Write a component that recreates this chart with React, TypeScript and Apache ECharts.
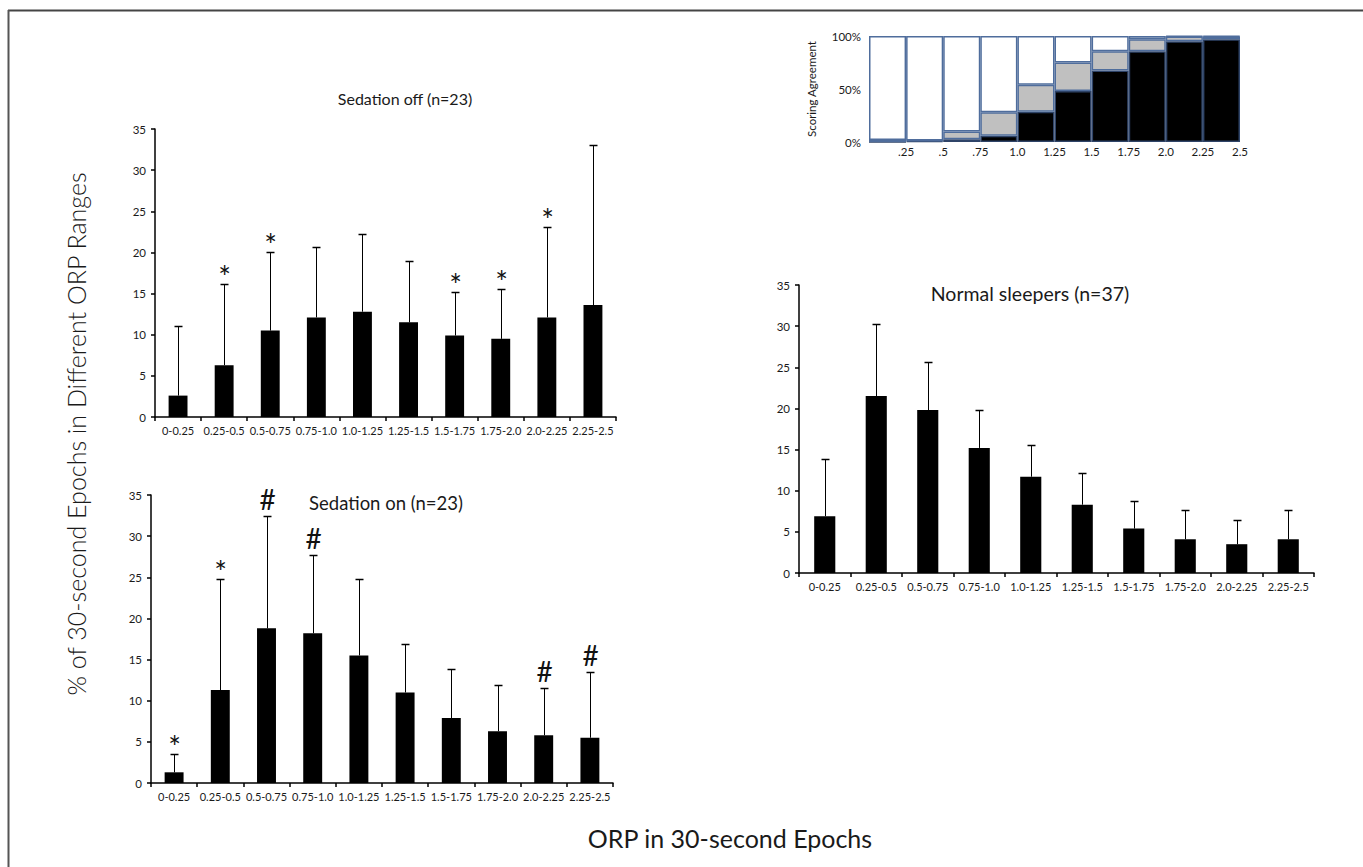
import React, { useEffect, useRef } from "react";
import * as echarts from "echarts";

const categories = ["0-0.25", "0.25-0.5", "0.5-0.75", "0.75-1.0", "1.0-1.25", "1.25-1.5", "1.5-1.75", "1.75-2.0", "2.0-2.25", "2.25-2.5"];

// Sedation off (n=23): mean and upper error limit
const offMean = [2.6, 6.3, 10.5, 12.1, 12.8, 11.5, 9.9, 9.5, 12.1, 13.6];
const offUpper = [11.1, 16.2, 20.1, 20.7, 22.3, 19.0, 15.2, 15.6, 23.1, 33.0];
const offMarks = ["", "*", "*", "", "", "", "*", "*", "*", ""];

// Sedation on (n=23)
const onMean = [1.3, 11.3, 18.8, 18.2, 15.5, 11.0, 7.9, 6.3, 5.8, 5.5];
const onUpper = [3.5, 24.8, 32.4, 27.7, 24.8, 16.9, 13.9, 11.9, 11.6, 13.5];
const onMarks = ["*", "*", "#", "#", "", "", "", "", "#", "#"];

// Normal sleepers (n=37)
const normMean = [6.9, 21.5, 19.8, 15.2, 11.7, 8.3, 5.4, 4.1, 3.5, 4.1];
const normUpper = [13.9, 30.2, 25.6, 19.8, 15.5, 12.2, 8.7, 7.6, 6.5, 7.6];
const normMarks = ["", "", "", "", "", "", "", "", "", ""];

// Inset: scoring agreement (%)
const agreeBlack = [0, 1, 2.5, 6, 28.5, 48, 67.5, 85.5, 95, 97];
const agreeGray = [2, 0.5, 7.5, 22, 25.5, 27, 18, 11.5, 4.5, 2.5];
const agreeWhite = [98, 98.5, 90, 72, 46, 25, 14.5, 3, 0.5, 0.5];
const insetTickLabels = ["", ".25", ".5", ".75", "1.0", "1.25", "1.5", "1.75", "2.0", "2.25", "2.5"];
const insetYTicks = [0, 50, 100];

const FONT = "Lato, 'Open Sans', sans-serif";
const TXT = "#1a1a1a";

function errorSeries(axisIdx: number, mean: number[], upper: number[], marks: string[]) {
  return {
    type: "custom",
    xAxisIndex: axisIdx,
    yAxisIndex: axisIdx,
    encode: { x: 0, y: [1, 2] },
    data: categories.map((_, i) => [i, mean[i], upper[i]]),
    z: 5,
    renderItem: (params: any, api: any) => {
      const i = params.dataIndex;
      const base = api.coord([api.value(0), api.value(1)]);
      const top = api.coord([api.value(0), api.value(2)]);
      const x = Math.round(top[0]) + 0.5;
      const y = Math.round(top[1]) + 0.5;
      const children: any[] = [
        { type: "line", shape: { x1: x, y1: base[1], x2: x, y2: y }, style: { stroke: "#000", lineWidth: 1 } },
        { type: "line", shape: { x1: x - 4, y1: y, x2: x + 4, y2: y }, style: { stroke: "#000", lineWidth: 1.5 } },
      ];
      const m = marks[i];
      if (m) {
        const star = m === "*";
        children.push({
          type: "text",
          x: x,
          y: star ? y + 6 : y - 4,
          style: { text: m, fontSize: star ? 30 : 28, fontFamily: FONT, fill: "#111", align: "center", verticalAlign: "bottom" },
        });
      }
      return { type: "group", children };
    },
  };
}

export default function App() {
  const ref = useRef<HTMLDivElement>(null);
  useEffect(() => {
    if (!ref.current) return;
    const chart = echarts.init(ref.current, null, { renderer: "svg" });

    const grids = [
      { left: 155, top: 129, width: 461, height: 288 },
      { left: 151, top: 495, width: 462, height: 288 },
      { left: 799, top: 285, width: 515, height: 288 },
      { left: 869, top: 36, width: 371, height: 106 },
    ];

    const mainX = (g: number) => ({
      type: "category",
      gridIndex: g,
      data: categories,
      axisLine: { lineStyle: { color: "#000", width: 1.5 } },
      axisTick: { show: true, length: 4, lineStyle: { color: "#000", width: 1.5 } },
      axisLabel: { interval: 0, fontSize: 11, color: TXT, fontFamily: FONT, margin: 8 },
    });
    const mainY = (g: number) => ({
      type: "value",
      gridIndex: g,
      min: 0,
      max: 35,
      interval: 5,
      splitLine: { show: false },
      axisLine: { show: true, lineStyle: { color: "#000", width: 1.5 } },
      axisTick: { show: true, length: 4, lineStyle: { color: "#000", width: 1.5 } },
      axisLabel: { fontSize: 11.5, color: TXT, fontFamily: FONT, margin: 9 },
    });
    const barSeries = (g: number, data: number[]) => ({
      type: "bar",
      xAxisIndex: g,
      yAxisIndex: g,
      data,
      barWidth: "41%",
      itemStyle: { color: "#000" },
    });
    const insetBar = (data: number[], color: string, border: string) => ({
      type: "bar",
      xAxisIndex: 3,
      yAxisIndex: 3,
      stack: "agree",
      data,
      barCategoryGap: "0%",
      itemStyle: { color, borderColor: border, borderWidth: 1.5 },
    });

    chart.setOption({
      animation: false,
      backgroundColor: "#fff",
      grid: grids,
      xAxis: [
        mainX(0),
        mainX(1),
        mainX(2),
        {
          type: "category",
          gridIndex: 3,
          position: "top",
          data: categories,
          axisLine: { show: false },
          axisTick: { show: false },
          axisLabel: { show: false },
        },
        {
          type: "value",
          gridIndex: 3,
          position: "bottom",
          min: 0,
          max: 2.5,
          interval: 0.25,
          splitLine: { show: false },
          axisLine: { show: false },
          axisTick: { show: false },
          axisLabel: {
            fontSize: 11.5,
            color: TXT,
            fontFamily: FONT,
            margin: 3,
            formatter: (v: number) => insetTickLabels[Math.round(v / 0.25)] || "",
          },
        },
      ],
      yAxis: [
        mainY(0),
        mainY(1),
        mainY(2),
        {
          type: "value",
          gridIndex: 3,
          min: insetYTicks[0],
          max: insetYTicks[2],
          interval: 50,
          splitLine: { show: false },
          axisLine: { show: false },
          axisTick: { show: false },
          axisLabel: { fontSize: 11.5, color: TXT, fontFamily: FONT, margin: 8, formatter: "{value}%" },
          name: "Scoring Agreement",
          nameLocation: "middle",
          nameGap: 52,
          nameTextStyle: { fontSize: 11.5, color: TXT, fontFamily: FONT },
        },
      ],
      series: [
        barSeries(0, offMean),
        errorSeries(0, offMean, offUpper, offMarks),
        barSeries(1, onMean),
        errorSeries(1, onMean, onUpper, onMarks),
        barSeries(2, normMean),
        errorSeries(2, normMean, normUpper, normMarks),
        insetBar(agreeBlack, "#000", "#2f4468"),
        insetBar(agreeGray, "#c0c0c0", "#4f6d9c"),
        insetBar(agreeWhite, "#fff", "#4f6d9c"),
      ],
      graphic: [
        { type: "line", shape: { x1: 8, y1: 10.5, x2: 1363, y2: 10.5 }, style: { stroke: "#444", lineWidth: 2 } },
        { type: "line", shape: { x1: 8.5, y1: 10, x2: 8.5, y2: 867 }, style: { stroke: "#555", lineWidth: 2 } },
        {
          type: "text", x: 405, y: 98,
          style: { text: "Sedation off (n=23)", fontSize: 16, fontFamily: FONT, fill: TXT, align: "center", verticalAlign: "middle" },
        },
        {
          type: "text", x: 386, y: 503,
          style: { text: "Sedation on (n=23)", fontSize: 18.5, fontFamily: FONT, fill: TXT, align: "center", verticalAlign: "middle" },
        },
        {
          type: "text", x: 1030, y: 293,
          style: { text: "Normal sleepers (n=37)", fontSize: 19.5, fontFamily: FONT, fill: TXT, align: "center", verticalAlign: "middle" },
        },
        {
          type: "text", x: 730, y: 838,
          style: { text: "ORP in 30-second Epochs", fontSize: 25, fontFamily: FONT, fill: TXT, align: "center", verticalAlign: "middle" },
        },
        {
          type: "text", x: 76, y: 434, rotation: Math.PI / 2,
          style: { text: "% of 30-second Epochs in Different ORP Ranges", fontSize: 25, fontWeight: 300, fontFamily: FONT, fill: "#1a1a1a", align: "center", verticalAlign: "middle" },
        },
      ],
    });
    return () => chart.dispose();
  }, []);
  return <div ref={ref} style={{ position: "fixed", left: 0, top: 0, width: 1363, height: 867, background: "#fff" }} />;
}
